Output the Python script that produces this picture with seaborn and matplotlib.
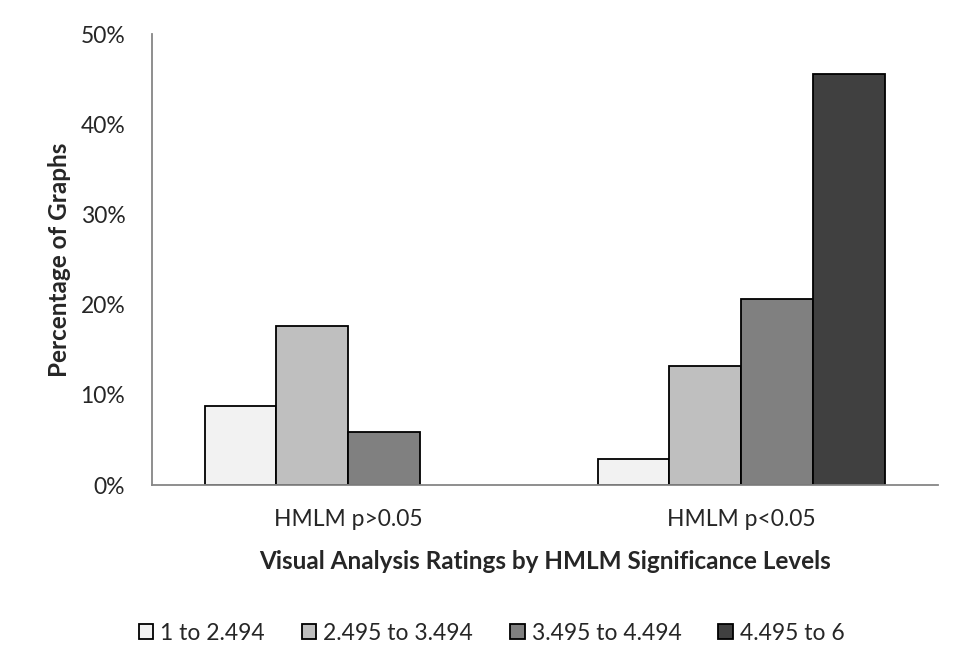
import numpy as np
import pandas as pd
import matplotlib
matplotlib.use('Agg')
import matplotlib.pyplot as plt
import matplotlib.ticker as mticker
import seaborn as sns

groups = ['HMLM p>0.05', 'HMLM p<0.05']
ratings = ['1 to 2.494', '2.495 to 3.494', '3.495 to 4.494', '4.495 to 6']
p_above = [8.8, 17.6, 5.9, None]   # no bar for the last rating
p_below = [2.9, 13.2, 20.6, 45.6]
colors = ['#f2f2f2', '#bfbfbf', '#808080', '#404040']

rows = []
for g, vals in zip(groups, [p_above, p_below]):
    for r, v in zip(ratings, vals):
        rows.append({'group': g, 'rating': r, 'pct': v})
df = pd.DataFrame(rows).dropna()

sns.set_style('white')
plt.rcParams['font.family'] = ['Lato', 'DejaVu Sans']
axis_grey = '#868686'

fig = plt.figure(figsize=(9.57, 6.70), dpi=100)
ax = fig.add_axes([0.1585, 0.2761, 0.8213, 0.6727])

sns.barplot(data=df, x='group', y='pct', hue='rating', order=groups,
            hue_order=ratings, palette=colors, width=0.73,
            edgecolor='black', linewidth=1.3, saturation=1, ax=ax)

ax.set_xlim(-0.5, 1.5)
ax.set_ylim(0, 50)
ax.yaxis.set_major_locator(mticker.MultipleLocator(10))
ax.yaxis.set_major_formatter(mticker.FuncFormatter(lambda v, p: f'{v:.0f}%'))

# ticks at group boundaries, labels at centres
ax.set_xticks([-0.5, 0.5, 1.5])
ax.set_xticklabels([])
ax.set_xticks([0, 1], minor=True)
ax.set_xticklabels(groups, minor=True, fontsize=16.5)
ax.tick_params(axis='x', which='minor', length=0, pad=17)
ax.tick_params(axis='x', which='major', length=6, width=1.3, color=axis_grey, direction='out')
ax.tick_params(axis='y', length=6, width=1.3, color=axis_grey, direction='out', labelsize=16.5, pad=13)

for s in ['top', 'right']:
    ax.spines[s].set_visible(False)
for s in ['left', 'bottom']:
    ax.spines[s].set_color(axis_grey)
    ax.spines[s].set_linewidth(1.3)

ax.set_xlabel('Visual Analysis Ratings by HMLM Significance Levels',
              fontsize=17.5, fontweight='bold')
ax.set_ylabel('Percentage of Graphs', fontsize=17.5, fontweight='bold')
ax.xaxis.label.set_va('center')
ax.yaxis.label.set_va('center')
ax.xaxis.set_label_coords(0.5, -0.170)
ax.yaxis.set_label_coords(-0.1167, 0.5)

handles, labels = ax.get_legend_handles_labels()
ax.legend_.remove()
fig.legend(handles, labels, loc='center', bbox_to_anchor=(0.5136, 0.0552), ncol=4,
           frameon=False, fontsize=16.5, handlelength=0.65, handleheight=0.65,
           handletextpad=0.3, columnspacing=1.6)

fig.savefig('out.png', dpi=100)
